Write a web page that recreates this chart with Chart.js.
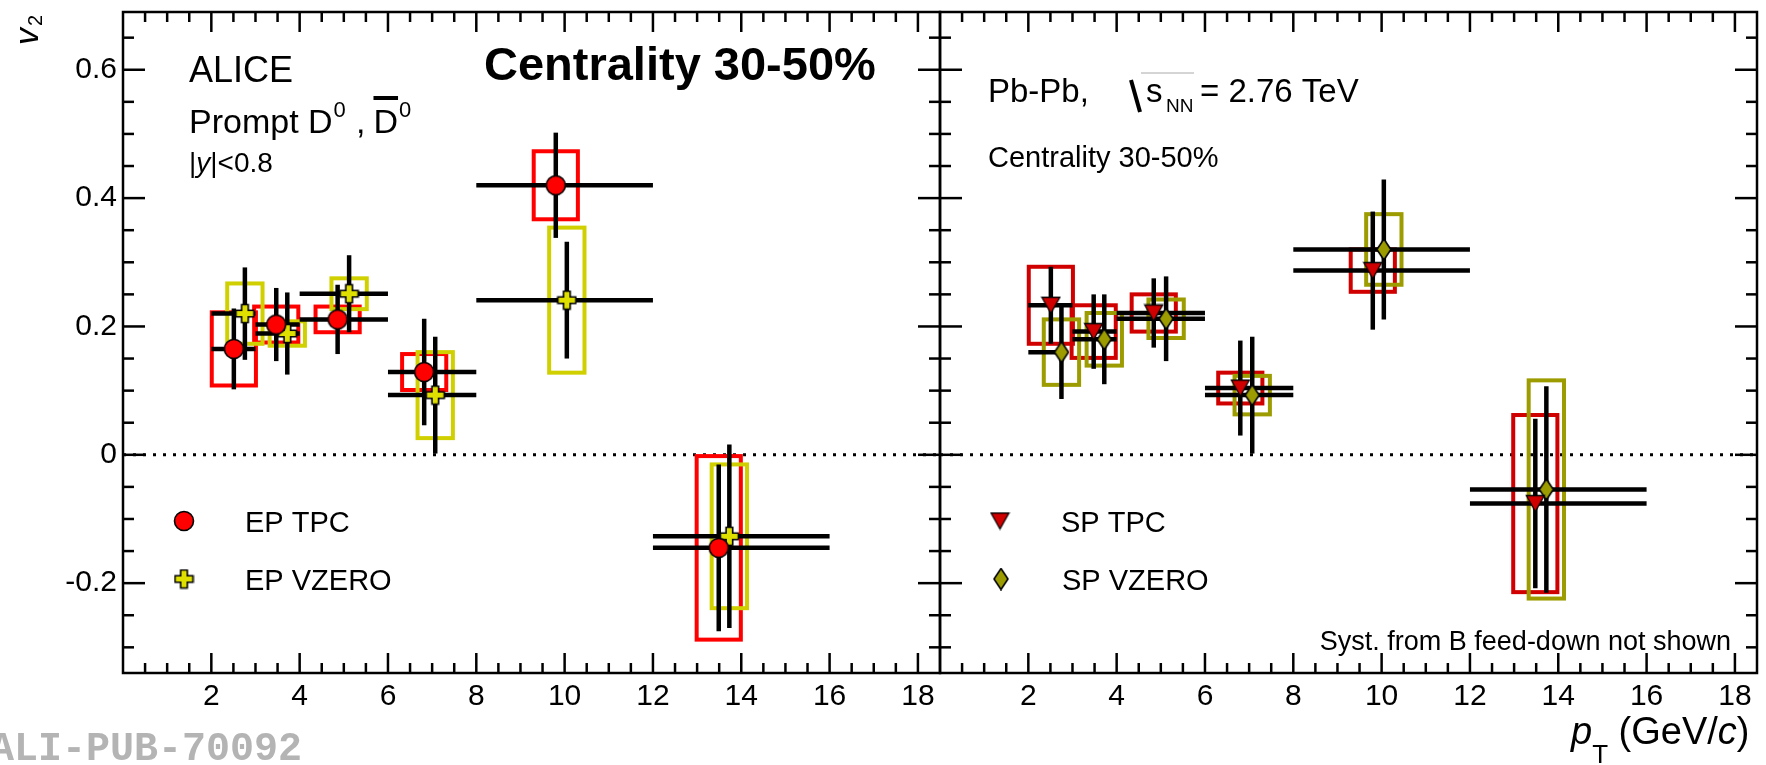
<!DOCTYPE html>
<html>
<head>
<meta charset="utf-8">
<script src="https://cdn.jsdelivr.net/npm/chart.js@4.4.1/dist/chart.umd.min.js"></script>
<style>
  html, body { margin: 0; padding: 0; background: #fff; }
  body { width: 1766px; height: 765px; position: relative; overflow: hidden; }
  canvas { position: absolute; top: 0; }
  #left { left: 0; }
  #right { left: 930px; }
</style>
</head>
<body>
<canvas id="left" width="944" height="765"></canvas>
<canvas id="right" width="836" height="765"></canvas>
<script>
// pT bins (GeV/c)
const binLo = [2, 3, 4, 6, 8, 12];
const binHi = [3, 4, 6, 8, 12, 16];

// left panel: event plane
const epTpcPt    = [2.51, 3.47, 4.86, 6.82, 9.80, 13.49];
const epTpcV2    = [0.165, 0.203, 0.211, 0.129, 0.420, -0.145];
const epTpcStat  = [0.063, 0.057, 0.054, 0.083, 0.082, 0.130];
const epTpcSyst  = [0.057, 0.028, 0.020, 0.028, 0.053, 0.143];

const epVzeroPt   = [2.76, 3.72, 5.12, 7.07, 10.05, 13.73];
const epVzeroV2   = [0.220, 0.189, 0.251, 0.093, 0.241, -0.127];
const epVzeroStat = [0.072, 0.064, 0.060, 0.091, 0.091, 0.143];
const epVzeroSyst = [0.047, 0.019, 0.024, 0.067, 0.113, 0.112];

// right panel: scalar product
const spTpcPt    = [2.51, 3.48, 4.84, 6.80, 9.80, 13.48];
const spTpcV2    = [0.233, 0.192, 0.221, 0.104, 0.287, -0.076];
const spTpcStat  = [0.060, 0.058, 0.054, 0.074, 0.092, 0.132];
const spTpcSyst  = [0.060, 0.041, 0.029, 0.024, 0.033, 0.138];

const spVzeroPt   = [2.75, 3.72, 5.12, 7.07, 10.05, 13.73];
const spVzeroV2   = [0.160, 0.180, 0.212, 0.093, 0.320, -0.054];
const spVzeroStat = [0.073, 0.070, 0.066, 0.091, 0.109, 0.161];
const spVzeroSyst = [0.051, 0.041, 0.030, 0.030, 0.055, 0.170];
const spVzeroHi   = [2.8, 4, 6, 8, 12, 16];

// axes
const xTickLabels = [2, 4, 6, 8, 10, 12, 14, 16, 18];
const yTickLabels = [-0.2, 0, 0.2, 0.4, 0.6];
const X_MIN = 0, X_MAX = 18.5, Y_MIN = -0.34, Y_MAX = 0.69;

const FONT = '"Liberation Sans", Arial, sans-serif';
const RIGHT_OFFSET = 930;

// markers as small canvases (ROOT-like shapes)
function marker(w, h, paint) {
  const c = document.createElement('canvas');
  c.width = w; c.height = h;
  const g = c.getContext('2d');
  g.lineJoin = 'miter';
  paint(g);
  return c;
}
const mCircle = marker(22, 22, g => {
  g.beginPath(); g.arc(11, 11, 9.5, 0, Math.PI * 2);
  g.fillStyle = '#ff0000'; g.fill();
  g.lineWidth = 1.6; g.strokeStyle = '#000'; g.stroke();
});
const mPlus = marker(21, 21, g => {
  const a = 3.3, b = 9, c = 10.5;
  g.beginPath();
  g.moveTo(c - a, c - b); g.lineTo(c + a, c - b); g.lineTo(c + a, c - a); g.lineTo(c + b, c - a);
  g.lineTo(c + b, c + a); g.lineTo(c + a, c + a); g.lineTo(c + a, c + b); g.lineTo(c - a, c + b);
  g.lineTo(c - a, c + a); g.lineTo(c - b, c + a); g.lineTo(c - b, c - a); g.lineTo(c - a, c - a);
  g.closePath();
  g.fillStyle = '#e0e000'; g.fill();
  g.lineWidth = 1.6; g.strokeStyle = '#000'; g.stroke();
});
const mTriDown = marker(21, 19, g => {
  g.beginPath(); g.moveTo(1.5, 1.5); g.lineTo(19.5, 1.5); g.lineTo(10.5, 17.5); g.closePath();
  g.fillStyle = '#d00000'; g.fill();
  g.lineWidth = 1.3; g.strokeStyle = '#000'; g.stroke();
});
const mDiamond = marker(16, 23, g => {
  g.beginPath(); g.moveTo(8, 1); g.lineTo(15, 11.5); g.lineTo(8, 22); g.lineTo(1, 11.5); g.closePath();
  g.fillStyle = '#9c9c00'; g.fill();
  g.lineWidth = 1.6; g.strokeStyle = '#000'; g.stroke();
});

const panels = {
  left: [
    { pt: epTpcPt, v2: epTpcV2, stat: epTpcStat, syst: epTpcSyst, lo: binLo, hi: binHi, box: '#ff0000', half: 0.5, mk: mCircle },
    { pt: epVzeroPt, v2: epVzeroV2, stat: epVzeroStat, syst: epVzeroSyst, lo: binLo, hi: binHi, box: '#d0d000', half: 0.4, mk: mPlus }
  ],
  right: [
    { pt: spTpcPt, v2: spTpcV2, stat: spTpcStat, syst: spTpcSyst, lo: binLo, hi: binHi, box: '#d00000', half: 0.5, mk: mTriDown },
    { pt: spVzeroPt, v2: spVzeroV2, stat: spVzeroStat, syst: spVzeroSyst, lo: binLo, hi: spVzeroHi, box: '#9c9c00', half: 0.4, mk: mDiamond }
  ]
};

function line(ctx, x0, y0, x1, y1) {
  ctx.beginPath(); ctx.moveTo(x0, y0); ctx.lineTo(x1, y1); ctx.stroke();
}
function txt(ctx, s, x, y, font, align) {
  ctx.font = font;
  ctx.textAlign = align || 'left';
  ctx.textBaseline = 'alphabetic';
  ctx.fillText(s, x, y);
  return ctx.measureText(s).width;
}

// boxes, error bars and the dotted zero line
function drawBands(chart, series) {
  const ctx = chart.ctx, xs = chart.scales.x, ys = chart.scales.y;
  const X = v => xs.getPixelForValue(v), Y = v => ys.getPixelForValue(v);
  const { left, right } = chart.chartArea;
  ctx.save();
  ctx.strokeStyle = '#000'; ctx.lineWidth = 3; ctx.setLineDash([3, 7]);
  line(ctx, left, Y(0), right, Y(0));
  ctx.setLineDash([]);
  series.forEach(s => {
    ctx.strokeStyle = s.box; ctx.lineWidth = 4;
    s.pt.forEach((p, i) => {
      const x0 = X(p - s.half), x1 = X(p + s.half);
      const y0 = Y(s.v2[i] + s.syst[i]), y1 = Y(s.v2[i] - s.syst[i]);
      ctx.strokeRect(x0, y0, x1 - x0, y1 - y0);
    });
  });
  ctx.strokeStyle = '#000'; ctx.lineWidth = 4.5; ctx.lineCap = 'butt';
  series.forEach(s => {
    s.pt.forEach((p, i) => {
      const y = Y(s.v2[i]);
      line(ctx, X(s.lo[i]), y, X(s.hi[i]), y);
      line(ctx, X(p), Y(s.v2[i] + s.stat[i]), X(p), Y(s.v2[i] - s.stat[i]));
    });
  });
  ctx.restore();
}

// frame with inward ticks on all four sides
function drawFrame(chart) {
  const ctx = chart.ctx, xs = chart.scales.x, ys = chart.scales.y;
  const { left, right, top, bottom } = chart.chartArea;
  ctx.save();
  ctx.strokeStyle = '#000'; ctx.lineWidth = 2.5;
  ctx.strokeRect(left, top, right - left, bottom - top);
  for (let k = 1; k < 37; k++) {
    const x = xs.getPixelForValue(k * 0.5);
    const L = k % 4 === 0 ? 20 : 10;
    line(ctx, x, bottom, x, bottom - L);
    line(ctx, x, top, x, top + L);
  }
  for (let k = -6; k <= 13; k++) {
    const y = ys.getPixelForValue(k * 0.05);
    const L = k % 4 === 0 ? 22 : 11;
    line(ctx, left, y, left + L, y);
    line(ctx, right, y, right - L, y);
  }
  ctx.restore();
}

function legendRow(ctx, mk, label, x, y) {
  ctx.drawImage(mk, x - mk.width / 2, y - mk.height / 2);
  txt(ctx, label, x + 61, y + 10.5, '29px ' + FONT);
}

function decorLeft(ctx) {
  ctx.fillStyle = '#000';
  // y title v2 (rotated)
  ctx.save();
  ctx.translate(38, 45); ctx.rotate(-Math.PI / 2);
  const wv = txt(ctx, 'v', 0, 0, 'italic 34px ' + FONT);
  txt(ctx, '2', wv + 2, 4, '20px ' + FONT);
  ctx.restore();

  txt(ctx, 'ALICE', 189, 82, '36px ' + FONT);
  let x = 189;
  x += txt(ctx, 'Prompt D', x, 133, '34px ' + FONT);
  txt(ctx, '0', x + 1, 117, '22px ' + FONT);
  x += 14;
  x += txt(ctx, ' ,', x, 133, '34px ' + FONT) + 8;
  const wd = txt(ctx, 'D', x, 133, '34px ' + FONT);
  ctx.fillRect(x, 96, wd, 4);
  txt(ctx, '0', x + wd + 1, 117, '22px ' + FONT);

  x = 189;
  x += txt(ctx, '|', x, 172, '28px ' + FONT);
  x += txt(ctx, 'y', x, 172, 'italic 28px ' + FONT);
  txt(ctx, '|<0.8', x, 172, '28px ' + FONT);

  txt(ctx, 'Centrality 30-50%', 484, 80, 'bold 47px ' + FONT);

  legendRow(ctx, mCircle, 'EP TPC', 184, 521);
  legendRow(ctx, mPlus, 'EP VZERO', 184, 579);

  ctx.fillStyle = '#b4b4b4';
  txt(ctx, 'ALI-PUB-70092', -10, 760, 'bold 40px "Liberation Mono", "Courier New", monospace');
}

function decorRight(ctx) {
  ctx.save();
  ctx.translate(-RIGHT_OFFSET, 0);
  ctx.fillStyle = '#000';
  txt(ctx, 'Pb-Pb,', 988, 102, '33px ' + FONT);
  ctx.strokeStyle = '#000'; ctx.lineWidth = 4;
  line(ctx, 1131, 80, 1140, 112);
  ctx.strokeStyle = '#aaa'; ctx.lineWidth = 1;
  line(ctx, 1141, 73, 1194, 73);
  txt(ctx, 's', 1146, 102, '33px ' + FONT);
  txt(ctx, 'NN', 1166, 112, '19px ' + FONT);
  txt(ctx, '= 2.76 TeV', 1200, 102, '33px ' + FONT);

  txt(ctx, 'Centrality 30-50%', 988, 167, '29px ' + FONT);

  legendRow(ctx, mTriDown, 'SP TPC', 1000, 521);
  legendRow(ctx, mDiamond, 'SP VZERO', 1001, 579);

  txt(ctx, 'Syst. from B feed-down not shown', 1731, 650, '27px ' + FONT, 'right');

  // x title
  let x = 1571;
  x += txt(ctx, 'p', x, 744, 'italic 38px ' + FONT);
  x += txt(ctx, 'T', x, 763, '26px ' + FONT);
  x += txt(ctx, ' (GeV/', x, 744, '38px ' + FONT);
  x += txt(ctx, 'c', x, 744, 'italic 38px ' + FONT);
  txt(ctx, ')', x, 744, '38px ' + FONT);
  ctx.restore();
}

const decorPlugin = {
  id: 'hepDecor',
  beforeDatasetsDraw(chart) {
    drawBands(chart, panels[chart.canvas.id]);
  },
  afterDraw(chart) {
    drawFrame(chart);
    if (chart.canvas.id === 'left') decorLeft(chart.ctx);
    else decorRight(chart.ctx);
  }
};

function makeChart(id, showY, padding) {
  const datasets = panels[id].map(s => ({
    data: s.pt.map((p, i) => ({ x: p, y: s.v2[i] })),
    pointStyle: s.mk,
    pointRadius: 9,
    pointHoverRadius: 9
  }));
  return new Chart(document.getElementById(id), {
    type: 'scatter',
    data: { datasets },
    options: {
      responsive: false,
      animation: false,
      devicePixelRatio: 1,
      events: [],
      layout: { padding, autoPadding: false },
      plugins: { legend: { display: false }, tooltip: { enabled: false } },
      scales: {
        x: {
          type: 'linear', min: X_MIN, max: X_MAX,
          grid: { display: false, drawTicks: false },
          border: { display: false },
          afterBuildTicks: s => { s.ticks = xTickLabels.map(v => ({ value: v })); },
          afterFit: s => { s.height = 92; s.paddingLeft = 0; s.paddingRight = 0; },
          ticks: {
            padding: 6, color: '#000', maxRotation: 0, autoSkip: false,
            font: { family: FONT, size: 30 },
            callback: v => String(v)
          }
        },
        y: {
          type: 'linear', min: Y_MIN, max: Y_MAX, display: showY,
          grid: { display: false, drawTicks: false },
          border: { display: false },
          afterBuildTicks: s => { s.ticks = yTickLabels.map(v => ({ value: v })); },
          afterFit: s => { s.width = showY ? 123 : 0; s.paddingTop = 0; s.paddingBottom = 0; },
          ticks: {
            padding: 6, color: '#000', autoSkip: false,
            font: { family: FONT, size: 30 },
            callback: v => String(v)
          }
        }
      }
    },
    plugins: [decorPlugin]
  });
}

makeChart('left', true, { left: 0, top: 12, right: 4, bottom: 0 });
makeChart('right', false, { left: 10, top: 12, right: 9, bottom: 0 });
</script>
</body>
</html>
